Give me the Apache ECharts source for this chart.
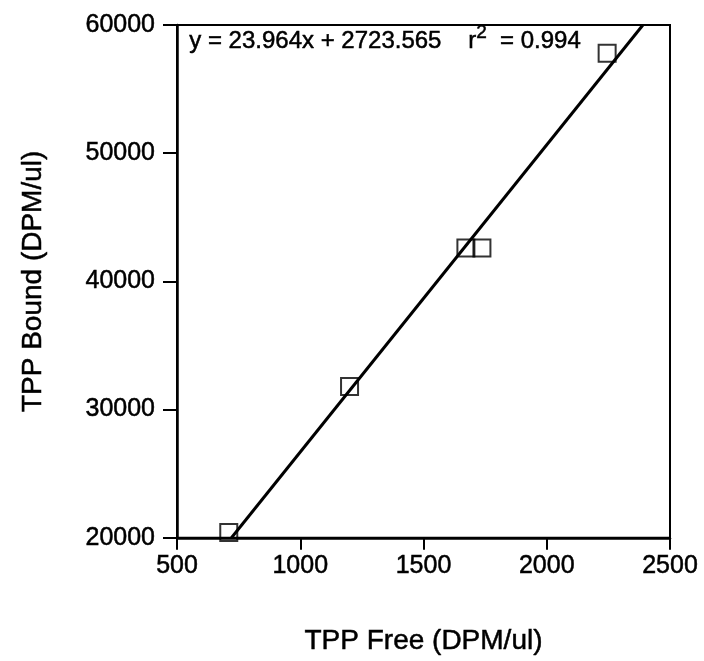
<!DOCTYPE html>
<html>
<head>
<meta charset="utf-8">
<script src="https://cdn.jsdelivr.net/npm/echarts@6/dist/echarts.min.js"></script>
<style>
  html, body { margin: 0; padding: 0; background: #fff; }
  #main { width: 704px; height: 661px; }
</style>
</head>
<body>
<div id="main"></div>
<script>
// measured points
var freeDpm = [710, 1200, 1672, 1737, 2245]
var boundDpm = [20400, 31800, 42600, 42600, 57800]
// regression from the figure
var slope = 23.964
var intercept = 2723.565
var rSquared = 0.994
// axis ranges / ticks
var xTicks = [500, 1000, 1500, 2000, 2500]
var yTicks = [20000, 30000, 40000, 50000, 60000]

var font = 'Liberation Sans, Arial, Helvetica, sans-serif'
// scanned print looks a bit heavy, thicken glyphs slightly
var heavy = { textBorderColor: '#000', textBorderWidth: 0.5 }

var yMin = yTicks[0]
var yMax = yTicks[yTicks.length - 1]
// fit line endpoints clipped to the y range
var fitLine = [
  [(yMin - intercept) / slope, yMin],
  [(yMax - intercept) / slope, yMax]
]

var points = freeDpm.map(function (x, i) { return [x, boundDpm[i]] })

var chart = echarts.init(document.getElementById('main'))
var option = {
  backgroundColor: '#fff',
  animation: false,
  grid: {
    left: 177,
    right: 34,
    top: 25,
    bottom: 121,
    show: true,
    borderColor: '#000',
    borderWidth: 2,
    backgroundColor: 'transparent'
  },
  xAxis: {
    type: 'value',
    min: xTicks[0],
    max: xTicks[xTicks.length - 1],
    interval: 500,
    name: 'TPP Free (DPM/ul)',
    nameLocation: 'middle',
    nameGap: 90,
    nameTextStyle: Object.assign({ fontFamily: font, fontSize: 28, color: '#000' }, heavy),
    axisLine: { show: true, onZero: false, lineStyle: { color: '#000', width: 2.5 } },
    axisTick: { show: true, inside: false, length: 12, lineStyle: { color: '#000', width: 2 } },
    axisLabel: Object.assign({
      fontFamily: font, fontSize: 25, color: '#000', margin: 16,
      formatter: function (v) { return String(v) }
    }, heavy),
    splitLine: { show: false }
  },
  yAxis: {
    type: 'value',
    min: yMin,
    max: yMax,
    interval: 10000,
    name: 'TPP Bound (DPM/ul)',
    nameLocation: 'middle',
    nameRotate: 90,
    nameGap: 130,
    nameTextStyle: Object.assign({ fontFamily: font, fontSize: 28, color: '#000' }, heavy),
    axisLine: { show: true, onZero: false, lineStyle: { color: '#000', width: 2.5 } },
    axisTick: { show: true, inside: false, length: 14, lineStyle: { color: '#000', width: 2 } },
    axisLabel: Object.assign({
      fontFamily: font, fontSize: 25, color: '#000', margin: 22,
      formatter: function (v) { return String(v) }
    }, heavy),
    splitLine: { show: false }
  },
  graphic: [
    {
      // regression equation, top left inside the plot
      type: 'text',
      left: 189,
      top: 23,
      style: {
        text: '{a|y = ' + slope + 'x + ' + intercept + '    r}{s|2}{a|  = ' + rSquared + '}',
        rich: {
          a: { fontFamily: font, fontSize: 24, fill: '#000', stroke: '#000', lineWidth: 0.5, lineHeight: 30, verticalAlign: 'bottom' },
          s: { fontFamily: font, fontSize: 19, fill: '#000', stroke: '#000', lineWidth: 0.5, lineHeight: 18, verticalAlign: 'top' }
        }
      }
    }
  ],
  series: [
    {
      type: 'line',
      data: fitLine,
      showSymbol: false,
      symbol: 'none',
      lineStyle: { color: '#000', width: 3 },
      z: 3
    },
    {
      type: 'scatter',
      data: points,
      symbol: 'rect',
      symbolSize: 17,
      itemStyle: { color: 'rgba(0,0,0,0)', borderColor: '#000', borderWidth: 2 },
      z: 2
    }
  ]
}
chart.setOption(option)
</script>
</body>
</html>
